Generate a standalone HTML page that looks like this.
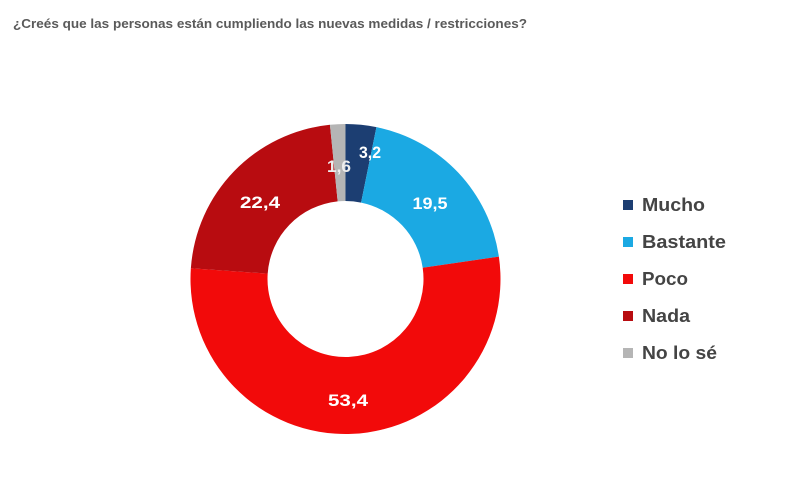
<!DOCTYPE html>
<html>
<head>
<meta charset="utf-8">
<style>
  html, body { margin: 0; padding: 0; background: #ffffff; }
  svg { display: block; }
</style>
</head>
<body>
<svg width="800" height="492" viewBox="0 0 800 492" xmlns="http://www.w3.org/2000/svg">
  <rect width="800" height="492" fill="#ffffff"/>
  <text x="13" y="28" font-family="Liberation Sans, sans-serif" font-weight="bold" font-size="13" fill="#5a5a5a" textLength="514" lengthAdjust="spacingAndGlyphs">¿Creés que las personas están cumpliendo las nuevas medidas / restricciones?</text>

  <!-- Donut -->
  <path d="M345.5,124 A155,155 0 0 1 376.45,127.12 L361.08,202.57 A78,78 0 0 0 345.5,201 Z" fill="#1c3e72"/>
  <path d="M376.45,127.12 A155,155 0 0 1 498.88,256.68 L422.69,267.77 A78,78 0 0 0 361.08,202.57 Z" fill="#1ba9e3"/>
  <path d="M498.88,256.68 A155,155 0 1 1 190.87,268.30 L267.69,273.61 A78,78 0 1 0 422.69,267.77 Z" fill="#f20a0a"/>
  <path d="M190.87,268.30 A155,155 0 0 1 329.94,124.78 L337.67,201.39 A78,78 0 0 0 267.69,273.61 Z" fill="#b80c10"/>
  <path d="M329.94,124.78 A155,155 0 0 1 345.5,124 L345.5,201 A78,78 0 0 0 337.67,201.39 Z" fill="#b5b5b5"/>

  <!-- Labels -->
  <g font-family="Liberation Sans, sans-serif" font-weight="bold" font-size="17" fill="#ffffff" text-anchor="middle">
    <text x="370" y="158" textLength="22" lengthAdjust="spacingAndGlyphs">3,2</text>
    <text x="339" y="172" textLength="24" lengthAdjust="spacingAndGlyphs" fill="#eeeeee">1,6</text>
    <text x="430" y="209" textLength="35" lengthAdjust="spacingAndGlyphs">19,5</text>
    <text x="260" y="208" textLength="40" lengthAdjust="spacingAndGlyphs">22,4</text>
    <text x="348" y="406" textLength="40" lengthAdjust="spacingAndGlyphs">53,4</text>
  </g>

  <!-- Legend -->
  <g font-family="Liberation Sans, sans-serif" font-weight="bold" font-size="18" fill="#444444">
    <rect x="623" y="200" width="10" height="10" fill="#1c3e72"/>
    <text x="642" y="211" textLength="63" lengthAdjust="spacingAndGlyphs">Mucho</text>
    <rect x="623" y="237" width="10" height="10" fill="#1ba9e3"/>
    <text x="642" y="248" textLength="84" lengthAdjust="spacingAndGlyphs">Bastante</text>
    <rect x="623" y="274" width="10" height="10" fill="#f20a0a"/>
    <text x="642" y="285" textLength="46" lengthAdjust="spacingAndGlyphs">Poco</text>
    <rect x="623" y="311" width="10" height="10" fill="#b80c10"/>
    <text x="642" y="322" textLength="48" lengthAdjust="spacingAndGlyphs">Nada</text>
    <rect x="623" y="348" width="10" height="10" fill="#b5b5b5"/>
    <text x="642" y="359" textLength="75" lengthAdjust="spacingAndGlyphs">No lo sé</text>
  </g>
</svg>
</body>
</html>
